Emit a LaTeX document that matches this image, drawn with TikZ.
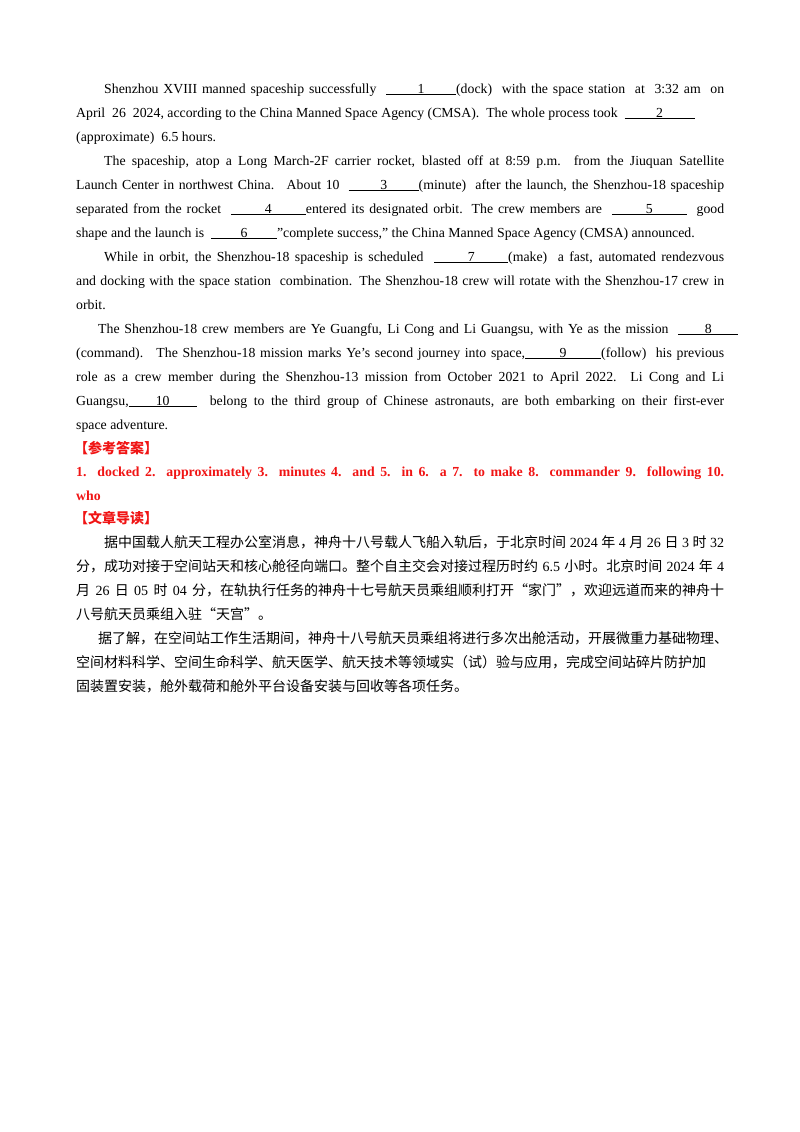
\documentclass[tikz,border=0pt]{standalone}
\usepackage{fontspec}
\setmainfont{Liberation Serif}
\newfontfamily\cjk{Noto Sans CJK SC}
\newcommand{\cjkon}{\cjk\XeTeXlinebreaklocale "zh"\relax\XeTeXlinebreakskip=0pt plus 3pt\relax}
\definecolor{ansred}{RGB}{240,20,20}
\newcommand{\blk}[2]{\underline{\makebox[#1pt]{#2}}}
\newcommand{\fl}[1]{\makebox[648pt][s]{#1}}
\newcommand{\fli}[1]{\makebox[620pt][s]{#1}}
\newcommand{\dq}{\char"22\relax}
\begin{document}
\begin{tikzpicture}[x=1pt,y=-1pt,
  ln/.style={anchor=base west,inner sep=0pt,font=\fontsize{13.8}{16}\selectfont},
  cn/.style={anchor=base west,inner sep=0pt,font=\fontsize{14}{16}\selectfont\cjkon}]
\useasboundingbox (0,0) rectangle (800,1132);
\node[ln] (l1) at (104,93) {\fli{Shenzhou XVIII manned spaceship successfully \ \blk{70}{1}(dock) \ with the space station \ at \ 3:32 am \ on}};
\node[ln] (l2) at (76,117) {April \ 26 \ 2024, according to the China Manned Space Agency (CMSA). \ The whole process took \ \blk{70}{2}};
\node[ln] (l3) at (76,141) {(approximate) \ 6.5 hours.};
\node[ln] (l4) at (104,165) {\fli{The spaceship, atop a Long March-2F carrier rocket, blasted off at 8:59 p.m. from the Jiuquan Satellite}};
\node[ln] (l5) at (76,189) {\fl{Launch Center in northwest China. \ About 10 \ \blk{70}{3}(minute) \ after the launch, the Shenzhou-18 spaceship}};
\node[ln] (l6) at (76,213) {\fl{separated from the rocket \ \blk{75}{4}entered its designated orbit. The crew members are \ \blk{75}{5} \ good}};
\node[ln] (l7) at (76,237) {shape and the launch is \ \blk{66}{6}\dq complete success,\dq\ the China Manned Space Agency (CMSA) announced.};
\node[ln] (l8) at (104,261) {\fli{While in orbit, the Shenzhou-18 spaceship is scheduled \ \blk{74}{7}(make) \ a fast, automated rendezvous}};
\node[ln] (l9) at (76,285) {\fl{and docking with the space station \ combination. The Shenzhou-18 crew will rotate with the Shenzhou-17 crew in}};
\node[ln] (l10) at (76,309) {orbit.};
\node[ln] (l11) at (98,333) {\makebox[640pt][s]{The Shenzhou-18 crew members are Ye Guangfu, Li Cong and Li Guangsu, with Ye as the mission \ \blk{60}{8}}};
\node[ln] (l12) at (76,357) {\fl{(command). \ The Shenzhou-18 mission marks Ye's second journey into space,\blk{76}{9}(follow) \ his previous}};
\node[ln] (l13) at (76,381) {\fl{role as a crew member during the Shenzhou-13 mission from October 2021 to April 2022. Li Cong and Li}};
\node[ln] (l14) at (76,405) {\fl{Guangsu,\blk{68}{10} \ belong to the third group of Chinese astronauts, are both embarking on their first-ever}};
\node[ln] (l15) at (76,429) {space adventure.};
\node[cn,text=ansred] (h1) at (74,453) {\bfseries【参考答案】};
\node[ln,text=ansred] (a1) at (76,476) {\bfseries\fl{1. docked 2. approximately 3. minutes 4. and 5. in 6. a 7. to make 8. commander 9. following 10.}};
\node[ln,text=ansred] (a2) at (76,500) {\bfseries who};
\node[cn,text=ansred] (h2) at (74,523) {\bfseries【文章导读】};
\node[cn] (c1) at (104,547) {\makebox[620pt][s]{据中国载人航天工程办公室消息，神舟十八号载人飞船入轨后，于北京时间 {\rmfamily 2024} 年 {\rmfamily 4} 月 {\rmfamily 26} 日 {\rmfamily 3} 时 {\rmfamily 32}}};
\node[cn] (c2) at (76,571) {\fl{分，成功对接于空间站天和核心舱径向端口。整个自主交会对接过程历时约 {\rmfamily 6.5} 小时。北京时间 {\rmfamily 2024} 年 {\rmfamily 4}}};
\node[cn] (c3) at (76,595) {\fl{月 {\rmfamily 26} 日 {\rmfamily 05} 时 {\rmfamily 04} 分，在轨执行任务的神舟十七号航天员乘组顺利打开“家门”，欢迎远道而来的神舟十}};
\node[cn] (c4) at (76,619) {八号航天员乘组入驻“天宫”。};
\node[cn] (c5) at (98,643) {据了解，在空间站工作生活期间，神舟十八号航天员乘组将进行多次出舱活动，开展微重力基础物理、};
\node[cn] (c6) at (76,667) {空间材料科学、空间生命科学、航天医学、航天技术等领域实（试）验与应用，完成空间站碎片防护加};
\node[cn] (c7) at (76,691) {固装置安装，舱外载荷和舱外平台设备安装与回收等各项任务。};
\end{tikzpicture}
\end{document}
